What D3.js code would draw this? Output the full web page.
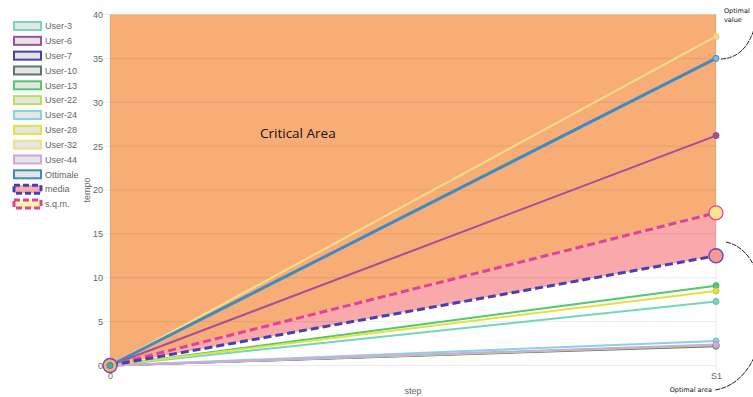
<!DOCTYPE html>
<html>
<head>
<meta charset="utf-8">
<script src="https://cdn.jsdelivr.net/npm/d3@7"></script>
<style>
  html, body { margin: 0; padding: 0; background: #fff; }
  svg { display: block; font-family: "Liberation Sans", Arial, sans-serif; }
</style>
</head>
<body>
<svg id="chart" width="753" height="397"></svg>
<script>
// Steps on the x axis
const steps = ["0", "S1"];
// Y axis ticks
const yTicks = [0, 5, 10, 15, 20, 25, 30, 35, 40];

// Individual user series (time per step)
const userNames = ["User-3", "User-6", "User-7", "User-10", "User-13", "User-22", "User-24", "User-28", "User-32", "User-44"];
const userValues = [
  [0, 7.3],
  [0, 26.2],
  [0, 2.3],
  [0, 2.2],
  [0, 9.1],
  [0, 2.3],
  [0, 2.8],
  [0, 8.5],
  [0, 37.5],
  [0, 2.4]
];
const userColors = ["#74d6bd", "#a24f9b", "#4242a8", "#5b7869", "#4fc96c", "#b6e257", "#86d3e3", "#e2e23f", "#f1df8c", "#d3a6e2"];

// Reference series
const optimalValues = [0, 35.0];
const mediaValues = [0, 12.5];
const sqmValues = [0, 17.4];

const svg = d3.select("#chart");

const x = d3.scalePoint().domain(steps).range([110, 716]);
const y = d3.scaleLinear().domain([0, 40]).range([365.5, 14.5]);

// Critical area: everything above the s.q.m. line
svg.append("path")
  .attr("d", d3.area().x((d, i) => x(steps[i])).y0(y(40)).y1(d => y(d))(sqmValues))
  .attr("fill", "#f8ad76");

// Band between media and s.q.m.
svg.append("path")
  .attr("d", d3.area().x((d, i) => x(steps[i])).y0((d, i) => y(mediaValues[i])).y1(d => y(d))(sqmValues))
  .attr("fill", "#f9a9a9");

// Grid
const grid = svg.append("g");
yTicks.forEach(t => {
  grid.append("line")
    .attr("x1", 102).attr("x2", 716)
    .attr("y1", y(t)).attr("y2", y(t))
    .attr("stroke", "rgba(0,0,0,0.08)").attr("stroke-width", 1);
});
steps.forEach(s => {
  grid.append("line")
    .attr("x1", x(s)).attr("x2", x(s))
    .attr("y1", y(40)).attr("y2", y(0) + 6)
    .attr("stroke", "rgba(0,0,0,0.08)").attr("stroke-width", 1);
});

// Axes
const yAxis = d3.axisLeft(y).tickValues(yTicks).tickSize(0).tickPadding(7);
const gy = svg.append("g").attr("transform", "translate(110,0)").call(yAxis);
gy.select(".domain").remove();
gy.selectAll("text").attr("fill", "#666").attr("font-size", 9);

const xAxis = d3.axisBottom(x).tickSize(0).tickPadding(7);
const gx = svg.append("g").attr("transform", `translate(0,${y(0)})`).call(xAxis);
gx.select(".domain").remove();
gx.selectAll("text").attr("fill", "#666").attr("font-size", 9);

svg.append("text")
  .attr("transform", "translate(90,190) rotate(-90)")
  .attr("text-anchor", "middle").attr("fill", "#666").attr("font-size", 9)
  .text("tempo");
svg.append("text")
  .attr("x", 413).attr("y", 394)
  .attr("text-anchor", "middle").attr("fill", "#666").attr("font-size", 9)
  .text("step");

const line = d3.line().x((d, i) => x(steps[i])).y(d => y(d));

// User lines
userValues.forEach((vals, k) => {
  svg.append("path").attr("d", line(vals))
    .attr("fill", "none").attr("stroke", userColors[k]).attr("stroke-width", 2);
});

// Optimal line
svg.append("path").attr("d", line(optimalValues))
  .attr("fill", "none").attr("stroke", "#3d8bc4").attr("stroke-width", 3);

// Media and s.q.m. dashed lines
svg.append("path").attr("d", line(sqmValues))
  .attr("fill", "none").attr("stroke", "#e0409e").attr("stroke-width", 3).attr("stroke-dasharray", "8,4");
svg.append("path").attr("d", line(mediaValues))
  .attr("fill", "none").attr("stroke", "#4343b0").attr("stroke-width", 3).attr("stroke-dasharray", "8,4");

// Points
userValues.forEach((vals, k) => {
  vals.forEach((v, i) => {
    svg.append("circle").attr("cx", x(steps[i])).attr("cy", y(v)).attr("r", 3)
      .attr("fill", userColors[k]).attr("stroke", d3.color(userColors[k]).darker(0.3)).attr("stroke-width", 1);
  });
});
optimalValues.forEach((v, i) => {
  svg.append("circle").attr("cx", x(steps[i])).attr("cy", y(v)).attr("r", 3)
    .attr("fill", "#86b8de").attr("stroke", "#3d8bc4").attr("stroke-width", 1);
});
sqmValues.forEach((v, i) => {
  svg.append("circle").attr("cx", x(steps[i])).attr("cy", y(v)).attr("r", i === 0 ? 6 : 7)
    .attr("fill", "#fbe48c").attr("stroke", "#e0409e").attr("stroke-width", 1.2);
});
mediaValues.forEach((v, i) => {
  svg.append("circle").attr("cx", x(steps[i])).attr("cy", y(v)).attr("r", 7)
    .attr("fill", i === 0 ? "#f8ad76" : "#f7998c").attr("stroke", "#6a48c8").attr("stroke-width", 1.4);
});
svg.append("circle").attr("cx", x(steps[0])).attr("cy", y(0)).attr("r", 3)
  .attr("fill", "#3fb0a0").attr("stroke", "#2f8c80").attr("stroke-width", 1);

// Label inside the critical area
svg.append("text")
  .attr("x", 260).attr("y", 138)
  .attr("font-family", "'Open Sans', 'DejaVu Sans', sans-serif")
  .attr("font-size", 13.5).attr("fill", "#111")
  .text("Critical Area");

// Legend
const legendNames = userNames.concat(["Ottimale", "media", "s.q.m."]);
const legendStroke = userColors.concat(["#3d8bc4", "#4343b0", "#e0409e"]);
const legendFill = userNames.map(() => "#e5e5e5").concat(["#e5e5e5", "#f9a9b0", "#fbf3a8"]);
const legend = svg.append("g");
legendNames.forEach((name, i) => {
  const cy = 26 + i * 14.83;
  const dashed = name === "media" || name === "s.q.m.";
  legend.append("rect")
    .attr("x", 14).attr("y", cy - 4).attr("width", 27).attr("height", 8)
    .attr("fill", legendFill[i]).attr("stroke", legendStroke[i])
    .attr("stroke-width", dashed ? 3 : 2)
    .attr("stroke-dasharray", dashed ? "6,3" : null);
  legend.append("text")
    .attr("x", 45).attr("y", cy + 3.3)
    .attr("font-size", 9).attr("fill", "#666")
    .text(name);
});

// Annotations on the right
const ann = svg.append("g").attr("font-family", "'DejaVu Sans', sans-serif").attr("font-size", 6.5).attr("fill", "#111");
ann.append("text").attr("x", 724).attr("y", 13).text("Optimal");
ann.append("text").attr("x", 724).attr("y", 22).text("value");
ann.append("text").attr("x", 712).attr("y", 392).attr("text-anchor", "end").text("Optimal area");

svg.append("path")
  .attr("d", "M721,59 Q746,58 755,26")
  .attr("fill", "none").attr("stroke", "#222").attr("stroke-width", 1).attr("stroke-dasharray", "5,1");
svg.append("path")
  .attr("d", "M726,242 C778,252 778,380 715,390")
  .attr("fill", "none").attr("stroke", "#222").attr("stroke-width", 1).attr("stroke-dasharray", "5,1");
</script>
</body>
</html>
